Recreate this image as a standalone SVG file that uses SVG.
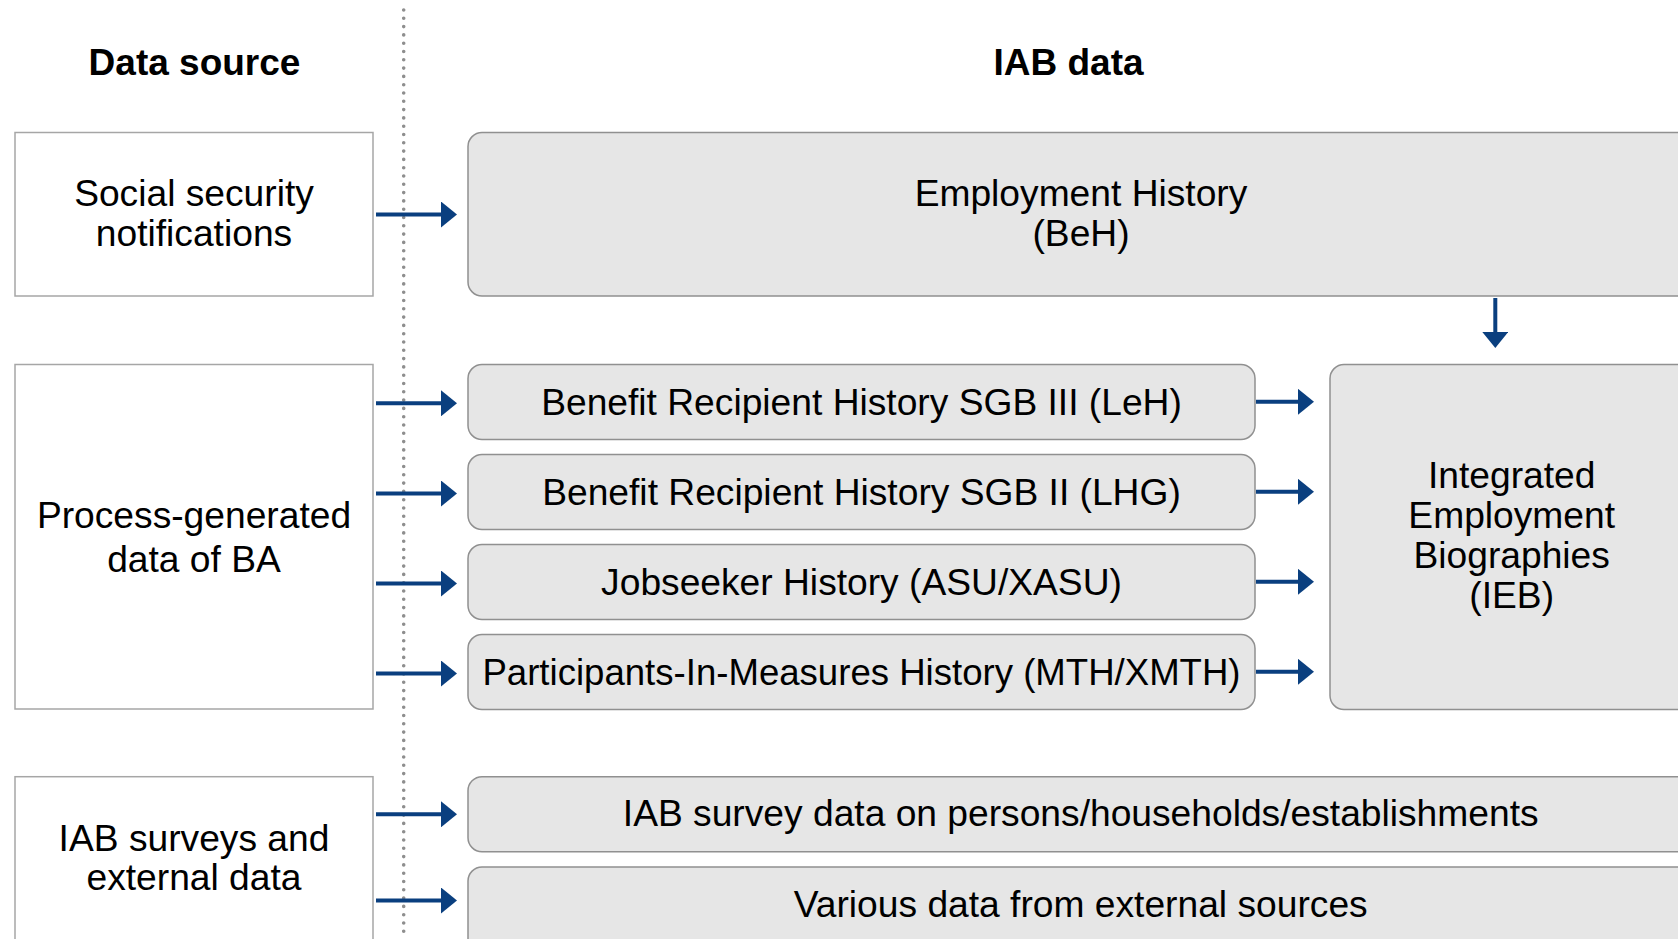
<svg xmlns="http://www.w3.org/2000/svg" width="1678" height="939" viewBox="0 0 1678 939">
<style>
.t{font-family:"Liberation Sans",Arial,sans-serif;font-size:37.2px;fill:#000;text-anchor:middle}
.h{font-family:"Liberation Sans",Arial,sans-serif;font-size:37px;font-weight:bold;fill:#000;text-anchor:middle}
.src{fill:#fff;stroke:#a6a6a6;stroke-width:1.5}
.iab{fill:#e6e6e6;stroke:#909090;stroke-width:1.5}
.c{stroke:#0a3f7f;stroke-width:4;fill:none}
</style>
<defs>
<marker id="ah" markerUnits="userSpaceOnUse" markerWidth="16" markerHeight="26" refX="0" refY="13" orient="auto" viewBox="0 0 16 26">
<path d="M0,0 L16,13 L0,26 z" fill="#0a3f7f"/>
</marker>
</defs>
<rect width="1678" height="939" fill="#fff"/>
<line x1="403.7" y1="10" x2="403.7" y2="939" stroke="#8e8e8e" stroke-width="3.6" stroke-linecap="round" stroke-dasharray="0 8.3"/>
<g id="titles">
<text class="h" x="194.5" y="75">Data source</text>
<text class="h" x="1068.5" y="75">IAB data</text>
</g>
<g id="social">
<rect class="src" x="15" y="132.5" width="358" height="163.5"/>
<text class="t" x="194" y="206">Social security</text>
<text class="t" x="194" y="246">notifications</text>
</g>
<g id="process">
<rect class="src" x="15" y="364.5" width="358" height="344.5"/>
<text class="t" x="194" y="528.3">Process-generated</text>
<text class="t" x="194" y="571.7">data of BA</text>
</g>
<g id="surveys">
<rect class="src" x="15" y="776.7" width="358" height="200"/>
<text class="t" x="194" y="850.7">IAB surveys and</text>
<text class="t" x="194" y="890">external data</text>
</g>
<g id="beh">
<rect class="iab" x="468" y="132.5" width="1226" height="163.5" rx="14"/>
<text class="t" x="1081" y="206">Employment History</text>
<text class="t" x="1081" y="246">(BeH)</text>
</g>
<g id="leh">
<rect class="iab" x="468" y="364.5" width="787" height="75" rx="14"/>
<text class="t" x="861.5" y="414.5">Benefit Recipient History SGB III (LeH)</text>
</g>
<g id="lhg">
<rect class="iab" x="468" y="454.5" width="787" height="75" rx="14"/>
<text class="t" x="861.5" y="504.5">Benefit Recipient History SGB II (LHG)</text>
</g>
<g id="asu">
<rect class="iab" x="468" y="544.5" width="787" height="75" rx="14"/>
<text class="t" x="861.5" y="594.5">Jobseeker History (ASU/XASU)</text>
</g>
<g id="mth">
<rect class="iab" x="468" y="634.5" width="787" height="75" rx="14"/>
<text class="t" x="861.5" y="684.5" style="font-size:36.6px">Participants-In-Measures History (MTH/XMTH)</text>
</g>
<g id="ieb">
<rect class="iab" x="1330" y="364.5" width="364" height="345" rx="14"/>
<text class="t" x="1511.7" y="488.3">Integrated</text>
<text class="t" x="1511.7" y="528.3">Employment</text>
<text class="t" x="1511.7" y="568.3">Biographies</text>
<text class="t" x="1511.7" y="608.3">(IEB)</text>
</g>
<g id="survey">
<rect class="iab" x="468" y="776.7" width="1226" height="75" rx="14"/>
<text class="t" x="1080.7" y="826">IAB survey data on persons/households/establishments</text>
</g>
<g id="external">
<rect class="iab" x="468" y="867" width="1226" height="110" rx="14"/>
<text class="t" x="1080.7" y="917">Various data from external sources</text>
</g>
<g id="connectors">
<line class="c" x1="376" y1="214.5" x2="441" y2="214.5" marker-end="url(#ah)"/>
<line class="c" x1="376" y1="403.3" x2="441" y2="403.3" marker-end="url(#ah)"/>
<line class="c" x1="376" y1="493.5" x2="441" y2="493.5" marker-end="url(#ah)"/>
<line class="c" x1="376" y1="583.5" x2="441" y2="583.5" marker-end="url(#ah)"/>
<line class="c" x1="376" y1="673.5" x2="441" y2="673.5" marker-end="url(#ah)"/>
<line class="c" x1="376" y1="814.3" x2="441" y2="814.3" marker-end="url(#ah)"/>
<line class="c" x1="376" y1="900.5" x2="441" y2="900.5" marker-end="url(#ah)"/>
<line class="c" x1="1256" y1="401.8" x2="1298" y2="401.8" marker-end="url(#ah)"/>
<line class="c" x1="1256" y1="491.8" x2="1298" y2="491.8" marker-end="url(#ah)"/>
<line class="c" x1="1256" y1="581.8" x2="1298" y2="581.8" marker-end="url(#ah)"/>
<line class="c" x1="1256" y1="671.8" x2="1298" y2="671.8" marker-end="url(#ah)"/>
<line class="c" x1="1495.3" y1="298" x2="1495.3" y2="332" marker-end="url(#ah)"/>
</g>
</svg>
